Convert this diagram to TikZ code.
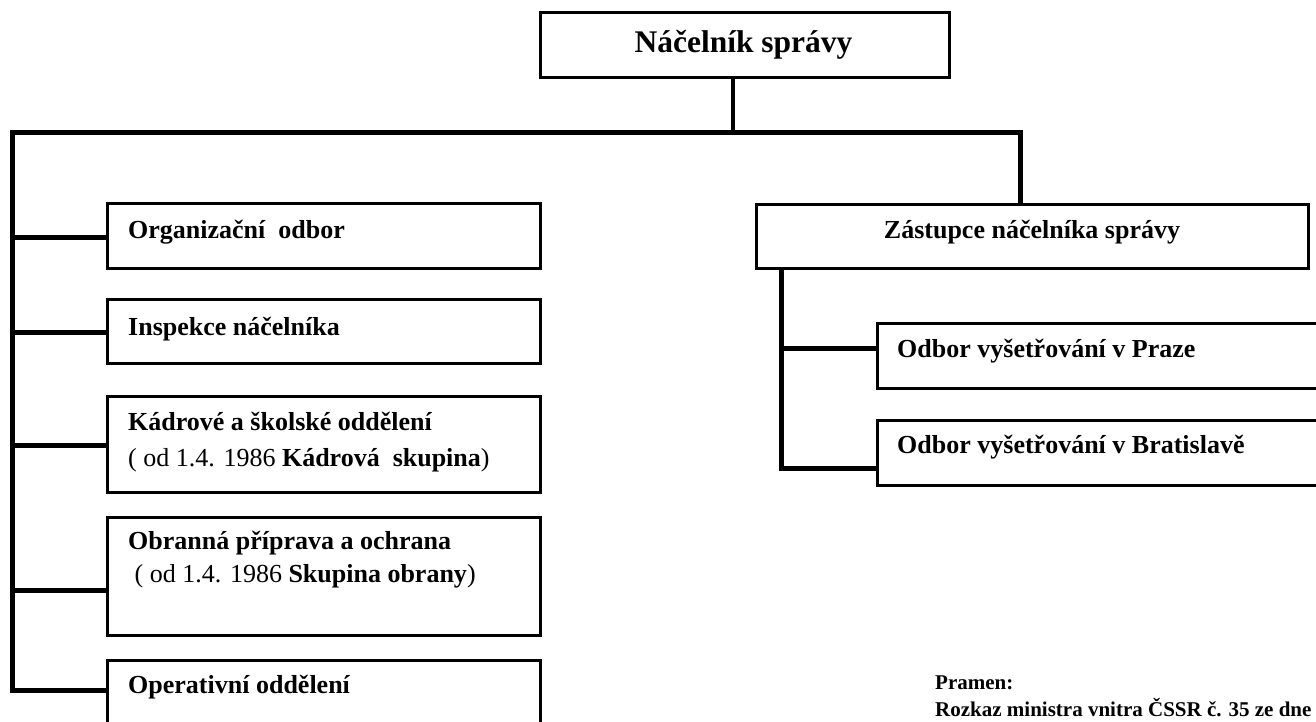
\documentclass[tikz,border=0pt]{standalone}
\usepackage{fontspec}
\setmainfont{Liberation Serif}
\usetikzlibrary{calc,positioning}

\begin{document}
\begin{tikzpicture}[x=1pt,y=-1pt,
    box/.style={draw,line width=3pt,rectangle,inner sep=0pt,outer sep=0pt,anchor=north west},
    conn/.style={line width=5pt},
    lbl/.style={inner sep=0pt,anchor=base west,align=left,font=\fontsize{26}{36}\selectfont\bfseries}]
    \useasboundingbox (0,0) rectangle (1316,721);
    \clip (0,0) rectangle (1316,721);

    \node[box, minimum width=409pt, minimum height=65pt] (top) at (540,12) {};
    \node[box, minimum width=433pt, minimum height=65pt] (org) at (107.5,203) {};
    \node[box, minimum width=433pt, minimum height=64pt] (insp) at (107.5,299) {};
    \node[box, minimum width=433pt, minimum height=96pt] (kadr) at (107.5,396) {};
    \node[box, minimum width=433pt, minimum height=118pt] (obr) at (107.5,517) {};
    \node[box, minimum width=433pt, minimum height=70pt] (ops) at (107.5,660) {};
    \node[box, minimum width=552pt, minimum height=64pt] (zast) at (756,204) {};
    \node[box, minimum width=453pt, minimum height=65pt] (praha) at (877,323) {};
    \node[box, minimum width=453pt, minimum height=65pt] (brat) at (877,420) {};

    \node[lbl, anchor=base, font=\fontsize{31.5}{36}\selectfont\bfseries] (topT) at ($(top.north)+(-1,40)$) {Náčelník správy};
    \node[lbl] (orgT) at ($(org.north west)+(20.5,35)$) {Organizační~ odbor};
    \node[lbl] (inspT) at ($(insp.north west)+(20.5,36)$) {Inspekce náčelníka};
    \node[lbl] (kadrT) at ($(kadr.north west)+(20.5,70)$) {Kádrové a školské oddělení\\{\mdseries( od 1.4. 1986 }Kádrová~ skupina{\mdseries)}};
    \node[lbl, font=\fontsize{26}{33}\selectfont\bfseries] (obrT) at ($(obr.north west)+(20.5,65)$) {Obranná příprava a ochrana\\\ {\mdseries( od 1.4. 1986 }Skupina obrany{\mdseries)}};
    \node[lbl] (opsT) at ($(ops.north west)+(20.5,33)$) {Operativní oddělení};
    \node[lbl, anchor=base] (zastT) at ($(zast.north)+(0,34)$) {Zástupce náčelníka správy};
    \node[lbl] (prahaT) at ($(praha.north west)+(20,34)$) {Odbor vyšetřování v Praze};
    \node[lbl] (bratT) at ($(brat.north west)+(20,33)$) {Odbor vyšetřování v Bratislavě};
    \node[lbl, font=\fontsize{21}{27}\selectfont\bfseries] (src) at (935,716) {Pramen:\\Rozkaz ministra vnitra ČSSR č. 35 ze dne};

    \coordinate (busL) at (12.5,132.5);
    \coordinate (busR) at (1020,132.5);
    \path ($(top.south)+(-11.5,0)$) coordinate (stem);
    \path ($(ops.north west)+(0,30)$) coordinate (cops);
    \draw[line width=4.5pt] (stem) -- (stem |- busL);
    \draw[conn] (busR |- zast.north) -- (busR) -- (busL) |- (cops);
    \foreach \n/\d in {org/34,insp/33,kadr/49,obr/73}
    {
        \path ($(\n.north west)+(0,\d)$) coordinate (c\n);
        \draw[conn] (c\n) -- (c\n -| busL);
    };

    \path ($(zast.south west)+(25,0)$) coordinate (sub);
    \path ($(praha.north west)+(0,25)$) coordinate (cpraha);
    \path ($(brat.north west)+(0,48)$) coordinate (cbrat);
    \draw[conn] (sub) |- (cbrat);
    \draw[conn] (cpraha) -- (cpraha -| sub);
\end{tikzpicture}
\end{document}
